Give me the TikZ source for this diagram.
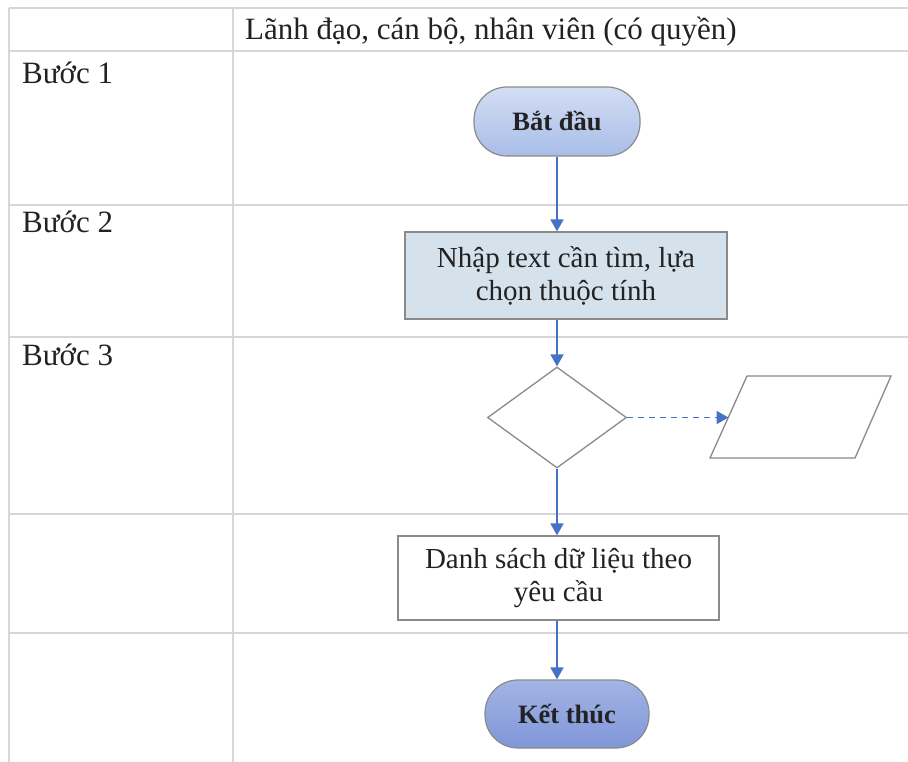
\documentclass[tikz,border=0pt]{standalone}
\usepackage{fontspec}
\setmainfont{Liberation Serif}
\usetikzlibrary{arrows.meta,shapes.geometric}
\definecolor{gridc}{HTML}{D6D6D6}
\definecolor{edgec}{HTML}{8A8A8A}
\definecolor{arrowc}{HTML}{4472C4}
\definecolor{txt}{HTML}{222222}
\definecolor{startTop}{HTML}{D3DEF4}
\definecolor{startBot}{HTML}{A9BDE8}
\definecolor{endTop}{HTML}{A3B4E4}
\definecolor{endBot}{HTML}{7F96D8}
\definecolor{procfill}{HTML}{D5E2EC}
\tikzset{
  grid line/.style={gridc, line width=2pt},
  terminal/.style={draw=edgec, line width=1.2pt, rounded corners=33pt, inner sep=0pt, text=txt, font=\fontsize{26.5}{30}\selectfont},
  procbox/.style={draw=edgec, line width=1.3pt, inner sep=0pt, align=center, text=txt, font=\fontsize{29}{33}\selectfont},
  decbox/.style={draw=edgec, line width=1.3pt, diamond, inner sep=0pt},
  flow/.style={arrowc, line width=1.8pt, -{Triangle[width=13pt,length=12pt]}},
  steplabel/.style={anchor=base west, inner sep=0pt, text=txt, font=\fontsize{31}{34}\selectfont},
}
\begin{document}
\begin{tikzpicture}[x=1pt,y=-1pt]
\useasboundingbox[fill=white] (0,0) rectangle (908,762);
% table grid
\draw[grid line] (9,8) -- (908,8);
\draw[grid line] (9,51) -- (908,51);
\draw[grid line] (9,205) -- (908,205);
\draw[grid line] (9,337) -- (908,337);
\draw[grid line] (9,514) -- (908,514);
\draw[grid line] (9,633) -- (908,633);
\draw[grid line] (9,8) -- (9,762);
\draw[grid line] (233,8) -- (233,762);
% header and step labels
\node[steplabel] (hdr) at (245,40) {Lãnh đạo, cán bộ, nhân viên (có quyền)};
\node[steplabel] (b1) at (22,84) {Bước 1};
\node[steplabel] (b2) at (22,233) {Bước 2};
\node[steplabel] (b3) at (22,365) {Bước 3};
% nodes
\node[terminal, top color=startTop, bottom color=startBot, minimum width=166pt, minimum height=69pt] (start) at (557,121.5) {\textbf{Bắt đầu}};
\node[procbox, fill=procfill, minimum width=322pt, minimum height=87pt] (input) at (566,275.5) {Nhập text cần tìm, lựa\\chọn thuộc tính};
\node[decbox, minimum width=139pt, minimum height=101pt] (dec) at (557,417.5) {};
\coordinate (pTL) at (747,376);
\coordinate (pTR) at (891,376);
\coordinate (pBR) at (855,458);
\coordinate (pBL) at (710,458);
\draw[edgec, line width=1.3pt] (pTL) -- (pTR) -- (pBR) -- (pBL) -- cycle;
\coordinate (pin) at (728.5,417.5);
\node[procbox, fill=white, minimum width=321pt, minimum height=84pt] (list) at (558.5,578) {Danh sách dữ liệu theo\\yêu cầu};
\node[terminal, top color=endTop, bottom color=endBot, minimum width=164pt, minimum height=68pt] (stop) at (567,714) {\textbf{Kết thúc}};
% connectors
\draw[flow] (start.south) -- (start.south |- input.north);
\draw[flow] (dec.north |- input.south) -- (dec.north);
\draw[flow] (dec.south) -- (dec.south |- list.north);
\draw[flow] (dec.south |- list.south) -- (dec.south |- stop.north);
\draw[flow, dashed, dash pattern=on 6pt off 5pt] (dec.east) -- (pin);
\end{tikzpicture}
\end{document}
